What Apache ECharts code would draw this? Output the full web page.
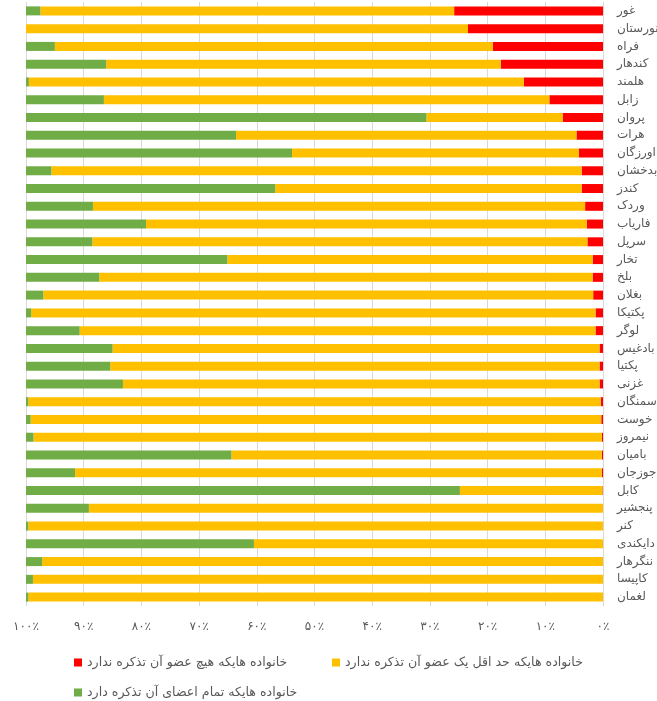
<!DOCTYPE html>
<html>
<head>
<meta charset="utf-8">
<script src="https://cdn.jsdelivr.net/npm/echarts@6/dist/echarts.min.js"></script>
<style>
html,body{margin:0;padding:0;background:#fff;}
#chart{width:657px;height:701px;}
</style>
</head>
<body>
<div id="chart"></div>
<script>
const categories = ['غور','نورستان','فراه','کندهار','هلمند','زابل','پروان','هرات','اورزگان','بدخشان','کندز','وردک','فاریاب','سرپل','تخار','بلخ','بغلان','پکتیکا','لوگر','بادغیس','پکتیا','غزنی','سمنگان','خوست','نیمروز','بامیان','جوزجان','کابل','پنجشیر','کنر','دایکندی','ننگرهار','کاپیسا','لغمان'];
const noneHave = [25.8,23.4,19.1,17.7,13.7,9.3,7.0,4.6,4.2,3.7,3.7,3.1,2.8,2.7,1.8,1.8,1.7,1.3,1.3,0.6,0.6,0.6,0.4,0.3,0.2,0.2,0.2,0.1,0,0,0,0,0,0];
const someMissing = [71.7,76.6,75.9,68.4,85.8,77.2,23.6,59.0,49.7,91.9,53.1,85.3,76.4,85.8,63.3,85.5,95.3,97.8,89.4,84.4,84.8,82.6,99.2,98.9,98.5,64.2,91.3,24.7,89.1,99.6,60.5,97.2,98.8,99.6];
const allHave = [2.5,0,5.0,13.9,0.5,13.5,69.4,36.4,46.1,4.4,43.2,11.6,20.8,11.5,34.9,12.7,3.0,0.9,9.3,15.0,14.6,16.8,0.4,0.8,1.3,35.6,8.5,75.2,10.9,0.4,39.5,2.8,1.2,0.4];
const seriesNames = ['خانواده هایکه هیچ عضو آن تذکره ندارد','خانواده هایکه حد اقل یک عضو آن تذکره ندارد','خانواده هایکه تمام اعضای آن تذکره دارد'];
const tickValues = [0,10,20,30,40,50,60,70,80,90,100];

const persianDigits = '۰۱۲۳۴۵۶۷۸۹';
function toFa(n){ return String(n).replace(/[0-9]/g, d => persianDigits[+d]); }

const font = 'DejaVu Sans';
const gray = '#595959';
const colors = ['#FF0000','#FFC000','#70AD47'];

const chart = echarts.init(document.getElementById('chart'));
const mk = (i, data) => ({
  name: seriesNames[i], type: 'bar', stack: 'total', data: data,
  barWidth: 9, itemStyle: {color: colors[i]}, animation: false
});
const legendBase = {
  itemWidth: 8, itemHeight: 8, icon: 'rect', itemGap: 10,
  textStyle: {color: gray, fontSize: 12.6, fontFamily: font}, padding: 0
};
chart.setOption({
  animation: false,
  grid: {left: 26, right: 54, top: 2, bottom: 95, outerBoundsMode: 'none', containLabel: false},
  xAxis: {
    type: 'value', inverse: true, min: 0, max: 100, interval: 10,
    axisLine: {show: false}, axisTick: {show: false},
    splitLine: {lineStyle: {color: '#d9d9d9'}},
    axisLabel: {color: gray, fontSize: 12, fontFamily: font, margin: 15,
      formatter: v => toFa(v) + '٪'}
  },
  yAxis: {
    type: 'category', data: categories, inverse: true, position: 'right',
    axisLine: {show: true, onZero: false, lineStyle: {color: '#d9d9d9'}},
    axisTick: {show: false},
    axisLabel: {color: gray, fontSize: 12, fontFamily: font, align: 'left', margin: 14}
  },
  legend: [
    Object.assign({}, legendBase, {left: 74, top: 656, data: [seriesNames[0]]}),
    Object.assign({}, legendBase, {left: 332, top: 656, data: [seriesNames[1]]}),
    Object.assign({}, legendBase, {left: 74, top: 686, data: [seriesNames[2]]})
  ],
  series: [mk(0, noneHave), mk(1, someMissing), mk(2, allHave)]
});
</script>
</body>
</html>
